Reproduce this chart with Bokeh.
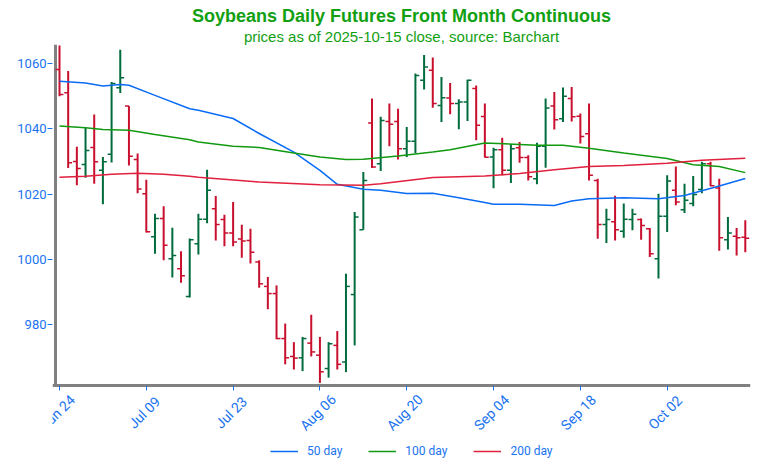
from bokeh.plotting import figure
from bokeh.models import (Range1d, FixedTicker, Legend, LegendItem, Title, ColumnDataSource)
from bokeh.core.properties import value
from bokeh.embed import file_html
from bokeh.resources import INLINE
import math

# ---- data (trading-day index 0 = Jun 24, 2025 ... 79 = Oct 15, 2025)
tick_idx = [0, 10, 20, 30, 40, 50, 60, 70]
tick_labels = ["Jun 24", "Jul 09", "Jul 23", "Aug 06", "Aug 20", "Sep 04", "Sep 18", "Oct 02"]
y_ticks = [980, 1000, 1020, 1040, 1060]

opens = [1058.2, 1051.1, 1030.0, 1029.1, 1034.3, 1027.3, 1032.2, 1052.6, 1047.0, 1030.6,
         1020.1, 1006.9, 1012.5, 1000.2, 997.1, 988.6, 1004.8, 1012.3, 1015.5, 1012.2,
         1008.1, 1006.2, 1005.8, 999.2, 991.7, 989.5, 975.7, 970.2, 969.8, 974.3,
         970.6, 966.5, 973.6, 968.5, 989.2, 1009.1, 1041.8, 1029.3, 1042.3, 1042.3,
         1033.9, 1036.2, 1054.9, 1058.0, 1047.2, 1049.5, 1047.8, 1048.3, 1052.4, 1043.8,
         1031.4, 1033.6, 1027.3, 1034.2, 1031.2, 1024.7, 1034.7, 1047.0, 1043.1, 1049.3,
         1043.9, 1038.5, 1024.2, 1010.7, 1011.5, 1008.6, 1012.2, 1012.2, 1009.4, 1000.2,
         1013.2, 1021.2, 1015.2, 1017.1, 1021.4, 1029.3, 1021.9, 1006.0, 1007.1, 1006.8]
highs = [1065.6, 1057.8, 1034.5, 1040.4, 1044.4, 1031.4, 1054.4, 1064.3, 1047.0, 1032.5,
         1024.4, 1014.0, 1016.3, 1009.7, 1002.5, 1006.4, 1014.0, 1027.5, 1019.4, 1013.7,
         1017.6, 1010.6, 1009.4, 999.7, 994.6, 992.0, 980.3, 974.6, 976.2, 983.0,
         976.2, 974.6, 978.0, 995.6, 1014.5, 1026.8, 1049.3, 1043.7, 1047.8, 1046.2,
         1040.6, 1057.0, 1062.7, 1061.9, 1055.9, 1054.1, 1049.1, 1055.1, 1053.3, 1047.8,
         1034.2, 1037.3, 1035.3, 1036.0, 1031.9, 1035.8, 1049.3, 1051.3, 1052.7, 1052.9,
         1044.7, 1047.8, 1024.7, 1015.5, 1019.5, 1017.1, 1015.5, 1012.5, 1009.6, 1020.1,
         1025.8, 1028.5, 1023.2, 1025.6, 1029.9, 1029.9, 1024.7, 1013.0, 1009.6, 1012.0]
lows = [1050.0, 1028.0, 1022.7, 1025.0, 1023.2, 1016.9, 1029.7, 1051.0, 1028.8, 1020.3,
        1008.2, 1001.7, 999.7, 994.4, 992.8, 988.3, 1001.5, 1011.1, 1005.8, 1004.0,
        1004.0, 1000.5, 998.7, 991.3, 984.7, 975.5, 967.8, 966.2, 965.7, 970.2,
        962.1, 963.7, 966.2, 965.4, 973.6, 1009.1, 1028.0, 1027.1, 1034.7, 1030.6,
        1031.4, 1032.6, 1052.1, 1046.5, 1042.1, 1044.5, 1039.9, 1042.4, 1036.5, 1031.2,
        1021.8, 1025.8, 1023.4, 1029.6, 1024.2, 1023.0, 1028.1, 1039.8, 1042.1, 1042.3,
        1035.5, 1024.2, 1006.3, 1005.0, 1005.8, 1006.6, 1008.9, 1006.0, 1000.7, 994.1,
        1008.4, 1016.6, 1014.2, 1016.3, 1020.3, 1022.4, 1002.6, 1003.0, 1001.2, 1002.2]
closes = [1050.6, 1029.6, 1027.9, 1033.4, 1029.9, 1029.9, 1053.9, 1055.7, 1031.6, 1021.6,
          1008.5, 1012.5, 1004.3, 1001.2, 995.0, 1006.0, 1012.3, 1021.2, 1010.7, 1008.1,
          1005.3, 1005.6, 1002.2, 992.5, 989.5, 975.7, 969.8, 969.7, 975.7, 971.6,
          965.5, 974.1, 967.8, 991.7, 1013.0, 1024.2, 1028.3, 1042.6, 1041.4, 1033.9,
          1036.2, 1056.4, 1059.0, 1047.8, 1049.6, 1047.8, 1048.3, 1054.9, 1041.1, 1031.3,
          1033.6, 1027.3, 1033.9, 1031.2, 1025.3, 1034.7, 1046.4, 1042.8, 1050.0, 1043.7,
          1037.7, 1025.8, 1010.7, 1012.2, 1009.1, 1012.3, 1013.8, 1010.4, 1001.7, 1013.2,
          1024.0, 1017.6, 1018.1, 1019.9, 1029.3, 1022.6, 1006.6, 1008.1, 1006.6, 1006.5]

ma50_idx = [0, 3, 5, 7, 8, 11, 15, 16, 20, 23, 27, 30, 32, 35, 37, 40, 43, 46, 49, 50,
            53, 57, 59, 61, 65, 69, 72, 76, 79]
ma50_val = [1054.6, 1054.1, 1053.2, 1053.6, 1053.4, 1050.3, 1046.2, 1045.7, 1043.2, 1038.6,
            1032.9, 1027.3, 1023.0, 1021.5, 1021.2, 1020.2, 1020.3, 1018.9, 1017.4, 1016.9,
            1016.9, 1016.5, 1017.9, 1018.6, 1018.9, 1018.6, 1019.6, 1022.5, 1024.8]
ma100_idx = [0, 3, 5, 8, 11, 15, 16, 20, 23, 27, 30, 33, 35, 39, 43, 45, 49, 55, 58, 61,
             65, 70, 73, 76, 79]
ma100_val = [1040.9, 1040.4, 1039.8, 1039.6, 1038.3, 1036.7, 1036.0, 1034.7, 1034.3, 1032.6,
             1031.4, 1030.6, 1030.7, 1031.7, 1032.9, 1033.6, 1035.7, 1035.0, 1035.0, 1034.1,
             1032.6, 1030.9, 1029.0, 1028.5, 1026.6]
ma200_idx = [0, 3, 6, 9, 12, 15, 16, 23, 30, 35, 37, 43, 49, 53, 57, 61, 65, 70, 74, 79]
ma200_val = [1025.2, 1025.5, 1026.1, 1026.4, 1026.1, 1025.5, 1025.2, 1023.7, 1022.9, 1022.7,
             1023.2, 1025.1, 1025.6, 1026.3, 1027.5, 1028.5, 1028.8, 1029.5, 1030.4, 1031.0]

UP = "#006b3c"
DOWN = "#c8102e"
BLUE_TXT = "#1a73f0"
TITLE_GREEN = "#12a012"
AXIS_GREY = "#808080"
TICK_FONT = "Roboto"
TITLE_FONT = "Liberation Sans"

# axis placement: price axis at x = X_AX, date axis at y = Y_AX; the frame extends
# below the date axis so the rotated date labels and legend can live inside it
X_AX, Y_AX, Y_TOP = -0.46, 961.3, 1065.9
PX_PER_UNIT_Y = 3.26
PX_PER_BAR = 8.681
BELOW_PX = 79      # room under the date axis for labels + legend
LEFT_PX = 3        # room left of the price axis line

n = len(opens)
xs = list(range(n))
cols = [UP if c >= o else DOWN for o, c in zip(opens, closes)]
src = ColumnDataSource(dict(
    x=xs, xl=[i - 0.45 for i in xs], xr=[i + 0.45 for i in xs],
    o=opens, h=highs, l=lows, c=closes, col=cols))

x_start = X_AX - LEFT_PX / PX_PER_BAR
x_end = 79.6
y_start = Y_AX - BELOW_PX / PX_PER_UNIT_Y
frame_w = round((x_end - x_start) * PX_PER_BAR)
frame_h = round((Y_TOP - y_start) * PX_PER_UNIT_Y)

p = figure(frame_width=frame_w, frame_height=frame_h, output_backend="svg",
           toolbar_location=None,
           x_range=Range1d(x_start, x_end), y_range=Range1d(y_start, Y_TOP),
           min_border_left=52, min_border_right=4, min_border_top=44, min_border_bottom=0)
p.outline_line_color = None
p.grid.grid_line_color = None
p.background_fill_color = "white"
p.border_fill_color = "white"

sub = Title(text="prices as of 2025-10-15 close, source: Barchart", align="center",
            text_color=TITLE_GREEN, text_font=TITLE_FONT, text_font_size="15px",
            text_font_style="normal", standoff=0, offset=6)
main = Title(text="Soybeans Daily Futures Front Month Continuous", align="center",
             text_color=TITLE_GREEN, text_font=TITLE_FONT, text_font_size="18px",
             text_font_style="bold", standoff=0, offset=6)
p.add_layout(sub, "above")
p.add_layout(main, "above")

# price axis line (the y axis itself only carries ticks + labels)
p.segment(x0=[X_AX], y0=[Y_AX], x1=[X_AX], y1=[Y_TOP], line_color=AXIS_GREY, line_width=3)

# OHLC bars
p.segment(x0="x", y0="l", x1="x", y1="h", color="col", line_width=2, source=src)
p.segment(x0="xl", y0="o", x1="x", y1="o", color="col", line_width=1.5, source=src)
p.segment(x0="x", y0="c", x1="xr", y1="c", color="col", line_width=1.5, source=src)

r50 = p.line(ma50_idx, ma50_val, line_color="#0a6cf5", line_width=1.5)
r100 = p.line(ma100_idx, ma100_val, line_color="#119911", line_width=1.5)
r200 = p.line(ma200_idx, ma200_val, line_color="#e0203c", line_width=1.5)

# y axis: ticks + labels only
ya = p.yaxis[0]
ya.ticker = FixedTicker(ticks=y_ticks)
ya.axis_line_color = None
ya.major_tick_line_color = BLUE_TXT
ya.major_tick_out = 5
ya.major_tick_in = 0
ya.minor_tick_line_color = None
ya.major_label_text_color = BLUE_TXT
ya.major_label_text_font = TICK_FONT
ya.major_label_text_font_size = "13px"
ya.major_label_standoff = 1

# x axis drawn at the bottom of the price area (inside the frame)
xa = p.xaxis[0]
xa.fixed_location = Y_AX
xa.ticker = FixedTicker(ticks=tick_idx)
xa.axis_line_color = AXIS_GREY
xa.axis_line_width = 3
xa.major_tick_line_color = BLUE_TXT
xa.major_tick_out = 5
xa.major_tick_in = 0
xa.minor_tick_line_color = None
xa.major_label_overrides = {i: "" for i in tick_idx}
xa.major_label_text_font_size = "1px"
xa.major_label_standoff = 0

# rotated date labels centred under their ticks
lab_src = ColumnDataSource(dict(x=tick_idx, y=[Y_AX] * len(tick_idx), t=tick_labels))
p.text(x="x", y="y", text="t", source=lab_src, angle=math.pi / 4,
       x_offset=-2, y_offset=27, text_align="center", text_baseline="middle",
       text_color=BLUE_TXT, text_font=value(TICK_FONT), text_font_size="14px")

legend = Legend(items=[LegendItem(label="50 day", renderers=[r50]),
                       LegendItem(label="100 day", renderers=[r100]),
                       LegendItem(label="200 day", renderers=[r200])],
                orientation="horizontal", location=(218, 6),
                label_text_color=BLUE_TXT, label_text_font=TICK_FONT, label_text_font_size="12px",
                glyph_width=28, glyph_height=14, label_height=14, spacing=26, label_standoff=9,
                border_line_color=None, background_fill_alpha=0, margin=0, padding=0)
p.add_layout(legend, "center")

open("out.html", "w").write(file_html(p, INLINE))
